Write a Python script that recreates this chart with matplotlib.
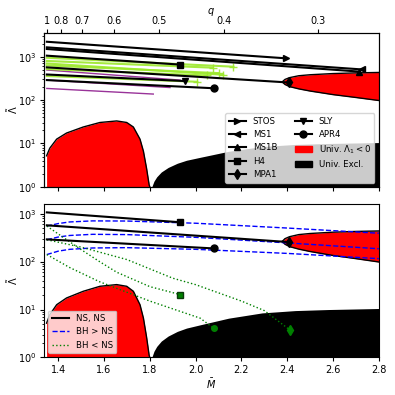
import numpy as np
import matplotlib
matplotlib.use("Agg")
import matplotlib.pyplot as plt
from matplotlib.lines import Line2D
from matplotlib.patches import Patch

# ---------------- data ----------------
# q tick labels on the top axis and the M-bar positions they sit at
q_ticks = [1, 0.8, 0.7, 0.6, 0.5, 0.4, 0.3]
q_tick_pos = [1.35, 1.411, 1.502, 1.643, 1.842, 2.125, 2.535]

# NS-NS lines (top panel): start at q=1, end at marker
eos_names = ['STOS', 'MS1', 'MS1B', 'H4', 'MPA1', 'SLY', 'APR4']
eos_markers = ['>', '<', '^', 's', 'd', 'v', 'o']
m_start = 1.35
lam_start = [2220, 1650, 1510, 1060, 570, 390, 290]
m_end = [2.396, 2.727, 2.715, 1.932, 2.406, 1.955, 2.078]
lam_end = [920, 510, 455, 660, 255, 275, 188]

# other EOS lines (top panel, green with '+')
green_lam_start = [950, 800, 700, 630, 520, 360]
green_m_end = [2.165, 2.075, 2.12, 2.10, 2.05, 2.007]
green_lam_end = [590, 560, 385, 420, 370, 265]

# purple lines (top panel)
purple_lam_start = [495, 290, 186]
purple_m_end = [1.932, 1.888, 1.815]
purple_lam_end = [290, 195, 138]

# universal Lambda_1 < 0 region (left lobe)
red_m = [1.349, 1.363, 1.393, 1.436, 1.509, 1.582, 1.655, 1.699, 1.728, 1.757, 1.772, 1.786, 1.797, 1.80]
red_lam = [5.2, 7.8, 12.6, 17.4, 24.0, 30.5, 33.1, 30.5, 24.0, 12.6, 6.6, 2.6, 1.1, 1.0]

# universal Lambda_1 < 0 region (right lobe)
lobe_m = [2.378, 2.39, 2.41, 2.45, 2.50, 2.60, 2.70, 2.80]
lobe_up = [263, 300, 330, 365, 385, 410, 425, 435]
lobe_lo = [263, 230, 205, 182, 162, 134, 115, 98]

# universal exclusion region
excl_m = [1.806, 1.81, 1.818, 1.83, 1.85, 1.88, 1.92, 1.96, 2.02, 2.144, 2.29, 2.435, 2.581, 2.80]
excl_lam = [0.8, 1.05, 1.35, 1.7, 2.2, 2.8, 3.5, 4.1, 4.8, 6.6, 8.5, 9.5, 10.0, 10.5]

# bottom panel: NS-NS (H4, MPA1, APR4)
ns_idx = [3, 4, 6]

# BH > NS
bhg_m = [1.35, 1.40, 1.45, 1.55, 1.70, 2.00, 2.40, 2.80]
bhg_h4 = [550, 620, 670, 705, 700, 630, 500, 390]
bhg_mpa1 = [285, 325, 350, 370, 365, 320, 245, 185]
bhg_apr4 = [140, 165, 180, 192, 195, 180, 148, 115]

# BH < NS
bhl_h4_m = [1.35, 1.43, 1.51, 1.58, 1.655, 1.80, 1.932]
bhl_h4 = [550, 300, 165, 100, 60, 30, 20.5]
bhl_mpa1_m = [1.35, 1.50, 1.70, 1.90, 2.00, 2.20, 2.30, 2.41]
bhl_mpa1 = [285, 200, 110, 45, 33, 15, 9.5, 3.8]
bhl_apr4_m = [1.35, 1.45, 1.58, 1.80, 2.02, 2.078]
bhl_apr4 = [140, 75, 38, 15, 6.6, 4.1]

# ---------------- plot ----------------
plt.rcParams['font.size'] = 7
plt.rcParams['xtick.major.size'] = 3
plt.rcParams['ytick.major.size'] = 3
plt.rcParams['xtick.minor.size'] = 1.8
plt.rcParams['ytick.minor.size'] = 1.8
plt.rcParams['xtick.major.pad'] = 2.5
plt.rcParams['ytick.major.pad'] = 2.5
fig = plt.figure(figsize=(3.95, 3.95), dpi=100)
ax1 = fig.add_axes([0.111, 0.527, 0.848, 0.389])
ax2 = fig.add_axes([0.111, 0.095, 0.848, 0.389])

xlim = (1.337, 2.8)


def regions(ax):
    ax.fill_between(red_m, 1e-3, red_lam, color='red', lw=0, zorder=1)
    ax.plot(red_m, red_lam, color='k', lw=1, zorder=2)
    ax.fill_between(excl_m, 1e-3, excl_lam, color='k', lw=0, zorder=1)
    ax.fill_between(lobe_m, lobe_lo, lobe_up, color='red', lw=0, zorder=1)
    ax.plot(lobe_m, lobe_up, color='k', lw=1, zorder=2)
    ax.plot(lobe_m, lobe_lo, color='k', lw=1, zorder=2)


# top panel
regions(ax1)
for ls, me, le in zip(purple_lam_start, purple_m_end, purple_lam_end):
    ax1.plot([m_start, me], [ls, le], color='purple', lw=1, alpha=0.8, zorder=3)
for ls, me, le in zip(green_lam_start, green_m_end, green_lam_end):
    ax1.plot([m_start, me], [ls, le], color='#9be82a', lw=1.5, alpha=0.9,
             marker='+', markevery=[1], ms=6, zorder=3)
for name, mk, ls, me, le in zip(eos_names, eos_markers, lam_start, m_end, lam_end):
    ax1.plot([m_start, me], [ls, le], color='k', lw=1.5, marker=mk,
             markevery=[1], ms=5, zorder=4)

ax1.set_yscale('log')
ax1.set_xlim(*xlim)
ax1.set_ylim(1, 3500)
ax1.set_ylabel(r'$\tilde{\Lambda}$')
ax1.yaxis.set_label_coords(-0.072, 0.5)
ax1.set_xticks([1.4, 1.6, 1.8, 2.0, 2.2, 2.4, 2.6, 2.8])
ax1.set_xticklabels([])

handles = [Line2D([], [], color='k', lw=1.5, marker=m, ms=5, label=n)
           for n, m in zip(eos_names, eos_markers)]
handles += [Patch(color='red', label=r'Univ. $\Lambda_1 < 0$'),
            Patch(color='k', label='Univ. Excl.')]
ax1.legend(handles=handles, loc='lower right', ncol=2, fontsize=6.2)

axq = ax1.twiny()
axq.set_xlim(*xlim)
axq.set_xticks(q_tick_pos)
axq.set_xticklabels([f'{q:g}' for q in q_ticks])
axq.set_xlabel(r'$q$', labelpad=1)

# bottom panel
regions(ax2)
ax2.plot(bhg_m, bhg_h4, color='b', ls='--', lw=1, zorder=3)
ax2.plot(bhg_m, bhg_mpa1, color='b', ls='--', lw=1, zorder=3)
ax2.plot(bhg_m, bhg_apr4, color='b', ls='--', lw=1, zorder=3)
ax2.plot(bhl_h4_m, bhl_h4, color='g', ls=':', lw=1, marker='s', markevery=[-1], ms=5,
         mec='#0a3a0a', zorder=3)
ax2.plot(bhl_mpa1_m, bhl_mpa1, color='g', ls=':', lw=1, marker='d', markevery=[-1], ms=5, zorder=3)
ax2.plot(bhl_apr4_m, bhl_apr4, color='g', ls=':', lw=1, marker='o', markevery=[-1], ms=4, zorder=3)
for i in ns_idx:
    ax2.plot([m_start, m_end[i]], [lam_start[i], lam_end[i]], color='k', lw=1.5,
             marker=eos_markers[i], markevery=[1], ms=5, zorder=4)

ax2.set_yscale('log')
ax2.set_xlim(*xlim)
ax2.set_ylim(1, 1600)
ax2.set_ylabel(r'$\tilde{\Lambda}$')
ax2.yaxis.set_label_coords(-0.072, 0.5)
ax2.set_xlabel(r'$\bar{M}$', labelpad=1)
ax2.set_xticks([1.4, 1.6, 1.8, 2.0, 2.2, 2.4, 2.6, 2.8])
ax2.set_xticklabels(['1.4', '1.6', '1.8', '2.0', '2.2', '2.4', '2.6', '2.8'])
leg_h = [Line2D([], [], color='k', lw=1.5, label='NS, NS'),
         Line2D([], [], color='b', ls='--', lw=1, label='BH > NS'),
         Line2D([], [], color='g', ls=':', lw=1, label='BH < NS')]
ax2.legend(handles=leg_h, loc='lower left', fontsize=6.2)

fig.savefig('out.png', dpi=100)
